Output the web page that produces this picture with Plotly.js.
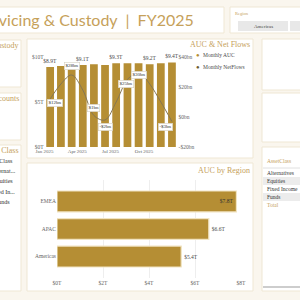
<!DOCTYPE html>
<html>
<head>
<meta charset="utf-8">
<script src="https://cdn.plot.ly/plotly-3.0.1.min.js"></script>
<style>
  html, body { margin: 0; padding: 0; background: #faf6ee; }
  #chart { width: 300px; height: 300px; }
</style>
</head>
<body>
<div id="chart"></div>
<script>
// ---- FY2025 data ----
const months = ['2025-01', '2025-02', '2025-03', '2025-04', '2025-05', '2025-06',
                '2025-07', '2025-08', '2025-09', '2025-10', '2025-11', '2025-12'];
const monthlyAuc = [8.9, 9.0, 9.0, 9.1, 9.2, 9.1, 9.3, 9.3, 9.3, 9.2, 9.3, 9.4];      // $T
const monthlyNetFlows = [12, 22, 28, 18, 1, -2, 10, 25, 30, 22, 10, -3];              // $bn
const aucLabelMonths = ['2025-01', '2025-04', '2025-07', '2025-10', '2025-12'];
const flowLabelMonths = ['2025-01', '2025-03', '2025-05', '2025-06', '2025-08', '2025-09', '2025-12'];

const monthTicks = ['2025-01', '2025-04', '2025-07', '2025-10'];
const monthTickLabels = ['Jan 2025', 'Apr 2025', 'Jul 2025', 'Oct 2025'];
const aucTicks = [0, 5, 10];
const aucTickLabels = ['$0T', '$5T', '$10T'];
const flowTicks = [-20, 0, 20, 40];
const flowTickLabels = ['-$20bn', '$0bn', '$20bn', '$40bn'];

const regions = ['Americas', 'APAC', 'EMEA'];
const regionAuc = [5.4, 6.6, 7.8];                                                   // $T
const regionTicks = [0, 2, 4, 6, 8];
const regionTickLabels = ['$0T', '$2T', '$4T', '$6T', '$8T'];

const assetClasses = ['Alternatives', 'Equities', 'Fixed Income', 'Funds', 'Total'];
const assetClassSlicer = ['AssetClass', 'Alternat...', 'Equities', 'Fixed In...', 'Funds'];

// ---- styling ----
const GOLD = '#b58e34';
const TITLE_GOLD = '#c6a15a';
const FLOW_LINE = '#857654';
const FLOW_DOT = '#6d5c30';
const TEXT = '#4a4a4a';
const SERIF = 'Liberation Serif, DejaVu Serif, serif';

// pixel helpers for the 300x300 canvas (paper coordinates)
const W = 300, H = 300;
const px = x => x / W;
const py = y => 1 - y / H;

// middle of a calendar month, so bars and points sit between month ticks
function monthMid(m) {
  const [y, mo] = m.split('-').map(Number);
  const a = Date.UTC(y, mo - 1, 1), b = Date.UTC(y, mo, 1);
  return new Date((a + b) / 2).toISOString().slice(0, 19).replace('T', ' ');
}
const monthStart = m => m + '-01';

const fmtT = v => '$' + v.toFixed(1) + 'T';
const fmtBn = v => (v < 0 ? '-$' + Math.abs(v) : '$' + v) + 'bn';

// offsets (px) of the net-flow labels from their points
const flowLabelOffsets = {
  '2025-01': [5, -4], '2025-03': [0, 9], '2025-05': [0, 7], '2025-06': [0, -7],
  '2025-08': [-1, -5], '2025-09': [0, -3], '2025-12': [-6, -6]
};

const xMid = months.map(monthMid);

// ---- traces ----
const aucBars = {
  type: 'bar', x: xMid, y: monthlyAuc, xaxis: 'x', yaxis: 'y',
  marker: { color: GOLD },
  text: months.map((m, i) => aucLabelMonths.includes(m) ? fmtT(monthlyAuc[i]) : ''),
  textposition: 'outside', constraintext: 'none', cliponaxis: false,
  textfont: { family: SERIF, size: 5.5, color: TEXT },
  hoverinfo: 'skip'
};

const flowLine = {
  type: 'scatter', mode: 'lines', x: xMid, y: monthlyNetFlows, xaxis: 'x', yaxis: 'y2',
  line: { color: FLOW_LINE, width: 1, shape: 'spline', smoothing: 1 },
  hoverinfo: 'skip'
};

const regionBars = {
  type: 'bar', orientation: 'h', y: regions, x: regionAuc, xaxis: 'x2', yaxis: 'y3',
  width: 0.76,
  marker: { color: GOLD, line: { color: '#f1e4c2', width: 1.2 } },
  text: regionAuc.map(fmtT),
  textposition: regionAuc.map(v => v > 7 ? 'inside' : 'outside'),
  insidetextanchor: 'end', constraintext: 'none', cliponaxis: false,
  textfont: { family: SERIF, size: 5.5, color: TEXT },
  insidetextfont: { family: SERIF, size: 5.5, color: '#333' },
  outsidetextfont: { family: SERIF, size: 5.5, color: TEXT },
  hoverinfo: 'skip'
};

// ---- panels ----
function rect(x0, y0, x1, y1, fill, line) {
  return { type: 'rect', xref: 'paper', yref: 'paper', layer: 'below',
           x0: px(x0), x1: px(x1), y0: py(y1), y1: py(y0),
           fillcolor: fill, line: line || { width: 0 } };
}
const panel = (x0, y0, x1, y1) => rect(x0, y0, x1, y1, 'white', { color: '#efe7d4', width: 1 });
const shapes = [
  panel(-10, 7, 224, 33),      // title bar
  panel(230, 7, 310, 33),      // region slicer
  panel(-10, 40, 21, 87),
  panel(-10, 93, 21, 140),
  panel(-10, 145, 21, 291),
  panel(27, 39, 253, 158),     // AUC & net flows
  panel(27, 163, 253, 291),    // AUC by region
  panel(262, 39, 310, 90),
  panel(262, 93, 310, 142),
  panel(262, 147, 310, 291),   // asset class table
  rect(238, 21, 288, 31, '#e8e8e8'),
  rect(290, 21, 310, 31, '#e8e8e8'),
  { type: 'line', xref: 'paper', yref: 'paper', x0: px(263), x1: 1, y0: py(168), y1: py(168),
    line: { color: '#d8d8d8', width: 0.8 } },
  { type: 'line', xref: 'paper', yref: 'paper', x0: px(263), x1: 1, y0: py(287), y1: py(287),
    line: { color: '#bdbdbd', width: 1.5 } }
];

// ---- text ----
function note(text, x, y, opts) {
  return Object.assign({ xref: 'paper', yref: 'paper', x: px(x), y: py(y), text: text,
    showarrow: false, xanchor: 'left', yanchor: 'middle',
    font: { family: SERIF, size: 5.5, color: TEXT } }, opts || {});
}
const annotations = [
  note('Asset Servicing & Custody\u00a0\u00a0|\u00a0\u00a0FY2025', 196, 20,
       { xanchor: 'right', font: { family: 'Liberation Sans Narrow, Lato, sans-serif', size: 16, color: TITLE_GOLD } }),
  note('Region', 233, 13, { font: { family: SERIF, size: 4.5, color: TITLE_GOLD } }),
  note('Americas', 263, 26, { xanchor: 'center', font: { family: SERIF, size: 5, color: '#444' } }),
  note('Assets Under Custody', 20.5, 45, { xanchor: 'right', font: { family: SERIF, size: 8, color: TITLE_GOLD } }),
  note('Client Accounts', 20.5, 98, { xanchor: 'right', font: { family: SERIF, size: 8, color: TITLE_GOLD } }),
  note('AUC by Asset Class', 20.5, 150, { xanchor: 'right', font: { family: SERIF, size: 8, color: TITLE_GOLD } }),
  note('AUC & Net Flows', 252, 44, { xanchor: 'right', font: { family: SERIF, size: 8, color: TITLE_GOLD } }),
  note('AUC by Region', 252, 171, { xanchor: 'right', font: { family: SERIF, size: 8, color: TITLE_GOLD } }),
  note('\u25CF', 198, 55, { xanchor: 'center', font: { size: 6, color: GOLD } }),
  note('Monthly AUC', 201, 55),
  note('\u25CF', 198, 67, { xanchor: 'center', font: { size: 6, color: FLOW_DOT } }),
  note('Monthly NetFlows', 201, 67)
];

// asset class slicer list (left column, truncated by the panel edge)
const slicerEnds = [15, 18, 15, 17, 12];
assetClassSlicer.forEach((c, i) => annotations.push(
  note(c, slicerEnds[i], 161 + i * 10.2, { xanchor: 'right', font: { family: SERIF, size: 6, color: '#333' } })));

// asset class table (right column): header, banded rows, gold total
annotations.push(note('AssetClass', 265, 161, { font: { family: SERIF, size: 5.5, color: TITLE_GOLD } }));
assetClasses.forEach((c, i) => {
  const yc = 173 + i * 8;
  if (i % 2 === 1) shapes.push(rect(263, yc - 4, 310, yc + 4, '#ececec'));
  annotations.push(note(c, 265, yc, { font: { family: SERIF, size: 5.5,
    color: c === 'Total' ? TITLE_GOLD : '#333' } }));
});

months.forEach((m, i) => {
  if (!flowLabelMonths.includes(m)) return;
  const off = flowLabelOffsets[m] || [0, 0];
  annotations.push({
    xref: 'x', yref: 'y2', x: xMid[i], y: monthlyNetFlows[i], text: fmtBn(monthlyNetFlows[i]),
    showarrow: false, xshift: off[0], yshift: off[1],
    bgcolor: 'white', bordercolor: '#d6d0c2', borderwidth: 0.6, borderpad: 0.8,
    font: { family: SERIF, size: 5, color: '#333' }
  });
});

// ---- layout ----
const tickFont = { family: SERIF, size: 5.5, color: '#666' };
const layout = {
  width: W, height: H, margin: { l: 0, r: 0, t: 0, b: 0 },
  paper_bgcolor: '#faf6ee', plot_bgcolor: 'rgba(0,0,0,0)',
  showlegend: false, bargap: 0.28,
  font: { family: SERIF },
  xaxis: {
    type: 'date', domain: [px(44.5), px(177.6)], anchor: 'y',
    range: [monthStart('2025-01'), '2026-01-01'],
    tickvals: monthTicks.map(monthStart), ticktext: monthTickLabels,
    tickfont: { family: SERIF, size: 5, color: '#666' },
    showgrid: false, zeroline: false, showline: false, ticks: ''
  },
  yaxis: {
    domain: [py(147), py(57)], anchor: 'x', range: [0, 10],
    tickvals: aucTicks, ticktext: aucTickLabels, tickfont: tickFont,
    showgrid: false, zeroline: false, showline: false, ticks: ''
  },
  yaxis2: {
    overlaying: 'y', side: 'right', anchor: 'x', range: [-20, 40],
    tickvals: flowTicks, ticktext: flowTickLabels, tickfont: tickFont,
    showgrid: false, zeroline: false, showline: false, ticks: ''
  },
  xaxis2: {
    domain: [px(57), px(241)], anchor: 'y3', range: [0, 8],
    tickvals: regionTicks, ticktext: regionTickLabels, tickfont: tickFont,
    showgrid: true, gridcolor: '#eeeeee', gridwidth: 1,
    zeroline: false, showline: false, ticks: ''
  },
  yaxis3: {
    domain: [py(278), py(180)], anchor: 'x2', type: 'category',
    categoryorder: 'array', categoryarray: regions, range: [-0.78, 2.78],
    tickfont: tickFont, showgrid: false, zeroline: false, showline: false, ticks: ''
  },
  shapes: shapes,
  annotations: annotations
};

Plotly.newPlot('chart', [aucBars, flowLine, regionBars], layout,
  { staticPlot: true, displayModeBar: false });
</script>
</body>
</html>
